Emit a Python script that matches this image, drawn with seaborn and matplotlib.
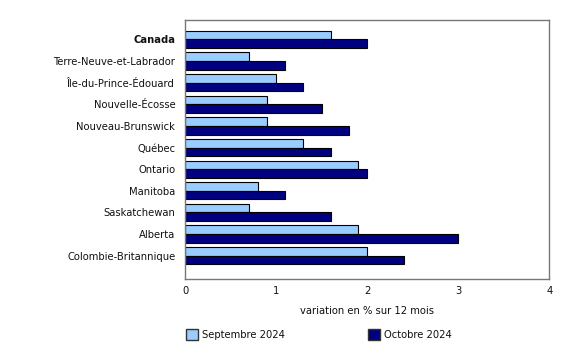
import pandas as pd
import seaborn as sns
import matplotlib.pyplot as plt
from matplotlib.patches import Patch

# Données
regions = ['Canada', 'Terre-Neuve-et-Labrador', 'Île-du-Prince-Édouard', 'Nouvelle-Écosse',
           'Nouveau-Brunswick', 'Québec', 'Ontario', 'Manitoba', 'Saskatchewan',
           'Alberta', 'Colombie-Britannique']
sept_2024 = [1.6, 0.7, 1.0, 0.9, 0.9, 1.3, 1.9, 0.8, 0.7, 1.9, 2.0]
oct_2024 = [2.0, 1.1, 1.3, 1.5, 1.8, 1.6, 2.0, 1.1, 1.6, 3.0, 2.4]
series = ['Septembre 2024', 'Octobre 2024']
x_ticks = [0, 1, 2, 3, 4]

df = pd.DataFrame({
    'region': regions * 2,
    'serie': [series[0]] * len(regions) + [series[1]] * len(regions),
    'valeur': sept_2024 + oct_2024,
})

sns.set_style('white')
plt.rcParams['font.family'] = ['DejaVu Sans']
plt.rcParams['font.size'] = 7.2
plt.rcParams['text.color'] = '#111111'
plt.rcParams['xtick.color'] = '#111111'
plt.rcParams['ytick.color'] = '#111111'
plt.rcParams['axes.labelcolor'] = '#111111'

fig = plt.figure(figsize=(5.8, 3.45), dpi=100)
ax = fig.add_axes([0.319, 0.19, 0.628, 0.752])

sns.barplot(data=df, y='region', x='valeur', hue='serie', orient='h',
            palette=['#99CCFF', '#000080'], edgecolor='black', linewidth=0.8,
            width=0.8, saturation=1, legend=False, ax=ax)

ax.set_xlim(0, 4)
ax.set_ylim(11.1, -0.9)
ax.set_xticks(x_ticks)
ax.set_xticklabels([str(t) for t in x_ticks])
ax.tick_params(axis='x', direction='in', length=4, color='#555555', pad=5)
ax.tick_params(axis='y', length=0, pad=7)
ax.set_xlabel('variation en % sur 12 mois', labelpad=7)
ax.set_ylabel('')
for s in ax.spines.values():
    s.set_color('#777777')
    s.set_linewidth(1)
ax.get_yticklabels()[0].set_fontweight('bold')

handles = [Patch(facecolor='#99CCFF', edgecolor='#333333'),
           Patch(facecolor='#000080', edgecolor='#333333')]
fig.legend(handles, series, loc='center left', bbox_to_anchor=(0.305, 0.03), ncol=2,
           frameon=False, handlelength=1.2, handleheight=1.2, handletextpad=0.4,
           columnspacing=8.3, fontsize=7.2)

fig.savefig('out.png', dpi=100)
